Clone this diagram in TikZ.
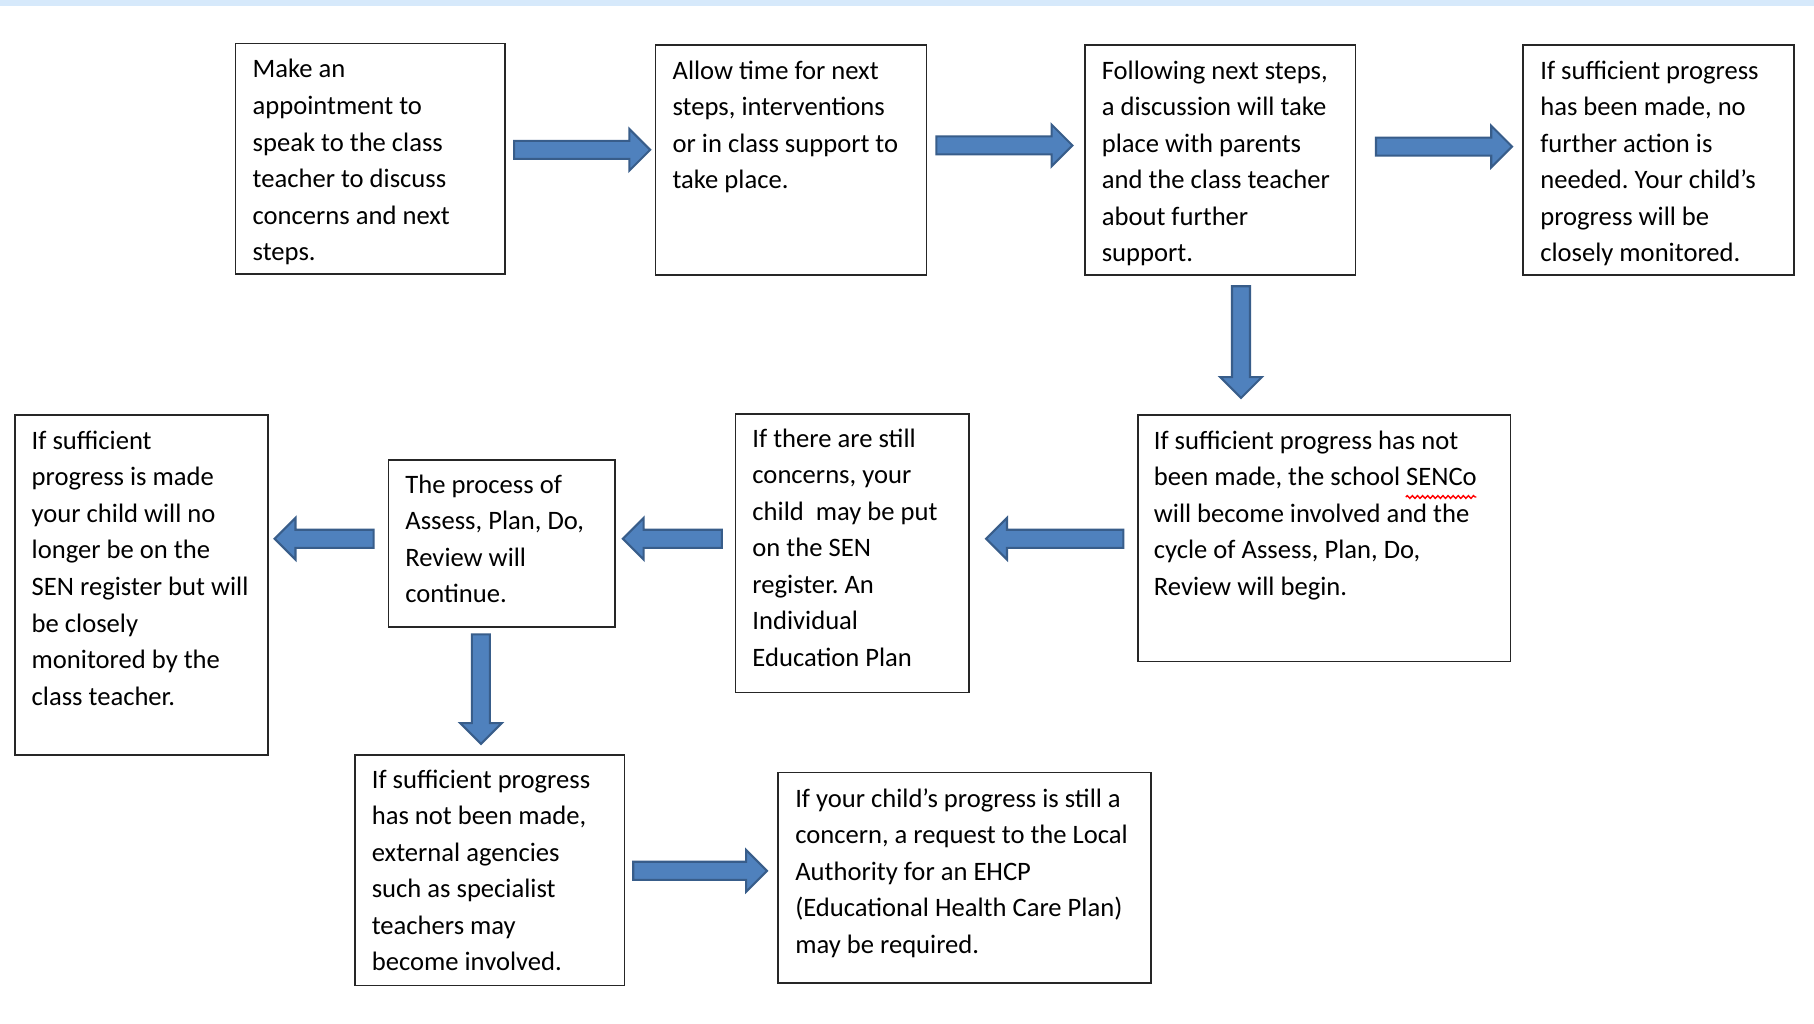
\documentclass[tikz,border=0pt]{standalone}
\usepackage{fontspec}
\setmainfont{Carlito}
\usetikzlibrary{calc,decorations.pathmorphing}

\definecolor{arrowfill}{HTML}{4F81BD}
\definecolor{arrowline}{HTML}{385D8A}
\definecolor{topband}{HTML}{D6E9FB}

\tikzset{
  box/.style={draw=black!85, line width=0.7pt, inner sep=0pt, anchor=north west},
  boxtext/.style={anchor=north west, align=left, inner sep=0pt,
    font=\fontsize{11.5}{15.8}\selectfont\frenchspacing, execute at begin node=\strut},
  spellwave/.style={draw=red, line width=0.6pt, decorate,
    decoration={snake, amplitude=0.6pt, segment length=2.2pt}},
  blockarrow/.style={fill=arrowfill, draw=arrowline, line width=0.9pt, line join=miter,
    to path={let \p1=(\tikztostart), \p2=(\tikztotarget),
      \n1={atan2(\y2-\y1,\x2-\x1)}, \n2={veclen(\x2-\x1,\y2-\y1)} in
      ([shift={(\p1)},rotate=\n1]0pt,-3.9pt) -- ([shift={(\p1)},rotate=\n1]\n2-9pt,-3.9pt)
      -- ([shift={(\p1)},rotate=\n1]\n2-9pt,-9pt) -- ([shift={(\p1)},rotate=\n1]\n2,0pt)
      -- ([shift={(\p1)},rotate=\n1]\n2-9pt,9pt) -- ([shift={(\p1)},rotate=\n1]\n2-9pt,3.9pt)
      -- ([shift={(\p1)},rotate=\n1]0pt,3.9pt) -- cycle}}
}

\def\px{0.5pt}
\newlength\wavestart
\newlength\wavelen

\begin{document}
\settowidth\wavestart{\fontsize{11.5}{15.8}\selectfont been made, the school }
\settowidth\wavelen{\fontsize{11.5}{15.8}\selectfont SENCo}
\begin{tikzpicture}[x=0.5pt, y=-0.5pt]
  % Page and top band
  \fill[white] (0,0) rectangle (1568,885);
  \useasboundingbox (0,0) rectangle (1568,885);
  \fill[topband] (0,0) rectangle (1568,5);

  % Top row
  \node[box, minimum width=233*\px, minimum height=199*\px] (make) at (203,37) {};
  \node[boxtext] (maketext) at ([shift={(15,14)}]make.north west)
    {Make an\\appointment to\\speak to the class\\teacher to discuss\\concerns and next\\steps.};

  \node[box, minimum width=234*\px, minimum height=199*\px] (allow) at (566,38) {};
  \node[boxtext] (allowtext) at ([shift={(15,14)}]allow.north west)
    {Allow time for next\\steps, interventions\\or in class support to\\take place.};

  \node[box, minimum width=234*\px, minimum height=199*\px] (discuss) at (937,38) {};
  \node[boxtext] (discusstext) at ([shift={(15,14)}]discuss.north west)
    {Following next steps,\\a discussion will take\\place with parents\\and the class teacher\\about further\\support.};

  \node[box, minimum width=234*\px, minimum height=199*\px] (noaction) at (1316,38) {};
  \node[boxtext] (noactiontext) at ([shift={(15,14)}]noaction.north west)
    {If sufficient progress\\has been made, no\\further action is\\needed. Your child’s\\progress will be\\closely monitored.};

  % Middle row
  \node[box, minimum width=322*\px, minimum height=213*\px] (senco) at (983,358) {};
  \node[boxtext] (sencotext) at ([shift={(14,14)}]senco.north west)
    {If sufficient progress has not\\been made, the school SENCo\\will become involved and the\\cycle of Assess, Plan, Do,\\Review will begin.};
  \draw[spellwave] ([xshift=\wavestart, yshift=-28.8pt]sencotext.north west)
    -- ([xshift=\wavestart+\wavelen, yshift=-28.8pt]sencotext.north west);

  \node[box, minimum width=202*\px, minimum height=241*\px] (register) at (635,357) {};
  \node[boxtext] (registertext) at ([shift={(15,13)}]register.north west)
    {If there are still\\concerns, your\\child~ may be put\\on the SEN\\register. An\\Individual\\Education Plan};

  \node[box, minimum width=196*\px, minimum height=144*\px] (review) at (335,397) {};
  \node[boxtext] (reviewtext) at ([shift={(15,13)}]review.north west)
    {The process of\\Assess, Plan, Do,\\Review will\\continue.};

  \node[box, minimum width=219*\px, minimum height=294*\px] (offreg) at (12,358) {};
  \node[boxtext] (offregtext) at ([shift={(15,14)}]offreg.north west)
    {If sufficient\\progress is made\\your child will no\\longer be on the\\SEN register but will\\be closely\\monitored by the\\class teacher.};

  % Bottom row
  \node[box, minimum width=233*\px, minimum height=199*\px] (agencies) at (306,652) {};
  \node[boxtext] (agenciestext) at ([shift={(15,13)}]agencies.north west)
    {If sufficient progress\\has not been made,\\external agencies\\such as specialist\\teachers may\\become involved.};

  \node[box, minimum width=322*\px, minimum height=182*\px] (ehcp) at (672,667) {};
  \node[boxtext] (ehcptext) at ([shift={(15,14)}]ehcp.north west)
    {If your child’s progress is still a\\concern, a request to the Local\\Authority for an EHCP\\(Educational Health Care Plan)\\may be required.};

  % Block arrows
  \draw[blockarrow] ([shift={(7,-7.7)}]make.east) to ([shift={(-4,-8.7)}]allow.west);
  \draw[blockarrow] ([shift={(8,-12.5)}]allow.east) to ([shift={(-10,-12.5)}]discuss.west);
  \draw[blockarrow] ([shift={(17,-11.5)}]discuss.east) to ([shift={(-9,-11.5)}]noaction.west);
  \draw[blockarrow] ([shift={(18,9)}]discuss.south) to ([shift={(-72,-14)}]senco.north);
  \draw[blockarrow] ([shift={(-12,0.5)}]senco.west) to ([shift={(14,-12.5)}]register.east);
  \draw[blockarrow] ([shift={(-11,-12.5)}]register.west) to ([shift={(6,-4)}]review.east);
  \draw[blockarrow] ([shift={(-12,-4)}]review.west) to ([shift={(5,-40)}]offreg.east);
  \draw[blockarrow] ([shift={(-18,6)}]review.south) to ([shift={(-7.5,-9)}]agencies.north);
  \draw[blockarrow] ([shift={(7,0.5)}]agencies.east) to ([shift={(-9,-6)}]ehcp.west);
\end{tikzpicture}
\end{document}
